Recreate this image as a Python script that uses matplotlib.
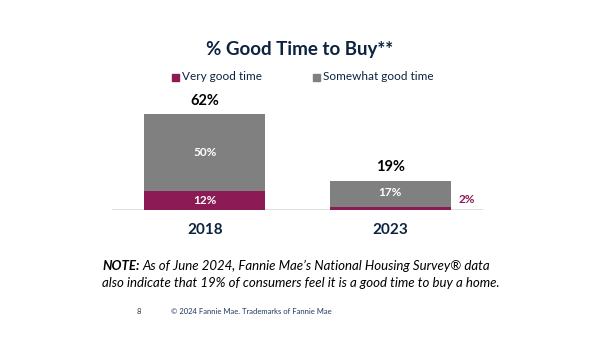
import matplotlib.pyplot as plt

years = ['2018', '2023']
very_good = [12, 2]
somewhat_good = [50, 17]
totals = [62, 19]

navy = '#0C2340'
magenta = '#8C1A55'
grey = '#808080'

plt.rcParams['font.family'] = ['Lato', 'DejaVu Sans']

fig = plt.figure(figsize=(6, 3.62), dpi=100)
ax = fig.add_axes([112 / 600, (362 - 210) / 362, 371 / 600, 150 / 362])

x = range(len(years))
ax.bar(x, very_good, width=0.65, color=magenta, zorder=2)
ax.bar(x, somewhat_good, bottom=very_good, width=0.65, color=grey, zorder=2)
ax.set_xlim(-0.5, 1.5)
ax.set_ylim(0, 96.9)
ax.axhline(0, color='#D9D9D9', lw=1.2, zorder=1)
for s in ax.spines.values():
    s.set_visible(False)
ax.set_yticks([])
ax.set_xticks(list(x))
ax.set_xticklabels(years, fontsize=11, fontweight='bold', color=navy)
ax.tick_params(axis='x', length=0, pad=9)

for i in x:
    ax.text(i, totals[i] + 4, f'{totals[i]}%', ha='center', va='bottom',
            fontsize=10.5, fontweight='bold', color='black')
    # 2023 label sits a bit above the middle of the thin grey segment
    y_mid = very_good[i] + somewhat_good[i] / 2 + (1 if i == 1 else 0)
    ax.text(i, y_mid, f'{somewhat_good[i]}%', ha='center', va='center',
            fontsize=8.5, fontweight='bold', color='white')

ax.text(0, very_good[0] / 2, f'{very_good[0]}%', ha='center', va='center',
        fontsize=8.5, fontweight='bold', color='white')
ax.text(1.37, 7, f'{very_good[1]}%', ha='left', va='center',
        fontsize=8.5, fontweight='bold', color=magenta)

fig.text(0.5, 1 - 50 / 362, '% Good Time to Buy**', ha='center', va='center',
         fontsize=13.5, fontweight='bold', color=navy)

# legend
fig.patches.append(plt.Rectangle((172 / 600, 1 - 81 / 362), 7 / 600, 7 / 362,
                                 transform=fig.transFigure, color=magenta))
fig.text(182 / 600, 1 - 77 / 362, 'Very good time', ha='left', va='center',
         fontsize=8.5, color=navy)
fig.patches.append(plt.Rectangle((313 / 600, 1 - 81 / 362), 7 / 600, 7 / 362,
                                 transform=fig.transFigure, color=grey))
fig.text(323 / 600, 1 - 77 / 362, 'Somewhat good time', ha='left', va='center',
         fontsize=8.5, color=navy)

# note
fig.text(102 / 600, 1 - 266 / 362, 'NOTE:', ha='left', va='center',
         fontsize=9.5, fontweight='bold', style='italic', color='black')
fig.text(142 / 600, 1 - 266 / 362,
         'As of June 2024, Fannie Mae\u2019s National Housing Survey\u00ae data',
         ha='left', va='center', fontsize=9.5, style='italic', color='black')
fig.text(102 / 600, 1 - 283 / 362,
         'also indicate that 19% of consumers feel it is a good time to buy a home.',
         ha='left', va='center', fontsize=9.5, style='italic', color='black')

fig.text(139 / 600, 1 - 311 / 362, '8', ha='center', va='center',
         fontsize=5.5, color='#333333')
fig.text(171 / 600, 1 - 311 / 362, '\u00a9 2024 Fannie Mae. Trademarks of Fannie Mae',
         ha='left', va='center', fontsize=5.5, color='#1F3A5F')

fig.savefig('out.png', dpi=100)
